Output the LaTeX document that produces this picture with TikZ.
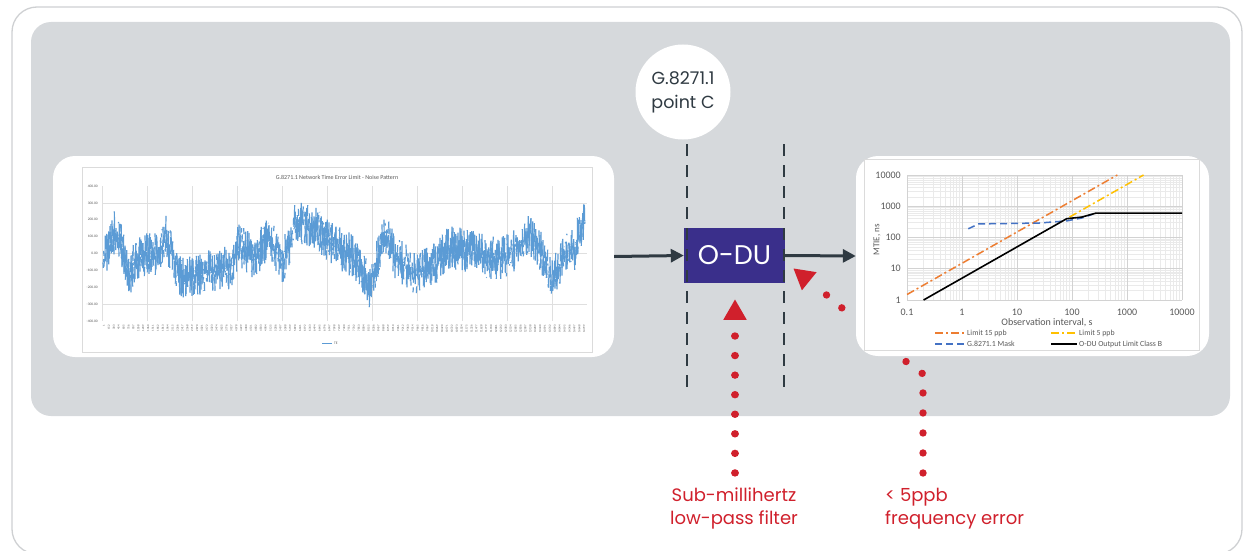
\documentclass[tikz,border=0pt]{standalone}
\usepackage{fontspec}
\setmainfont{Poppins}
\newfontfamily\chartfont{Carlito}
\usetikzlibrary{arrows.meta,shapes.geometric,calc}

\definecolor{panelgrey}{RGB}{214,217,220}
\definecolor{framegrey}{RGB}{206,208,210}
\definecolor{slate}{RGB}{47,58,66}
\definecolor{indigo}{RGB}{58,47,139}
\definecolor{alertred}{RGB}{208,32,44}
\definecolor{noiseblue}{RGB}{91,155,213}
\definecolor{gridgrey}{RGB}{210,210,210}
\definecolor{minorgrey}{RGB}{234,234,234}
\definecolor{ticktext}{RGB}{89,89,89}
\definecolor{lim15}{RGB}{237,125,49}
\definecolor{lim5}{RGB}{255,192,0}
\definecolor{maskblue}{RGB}{68,114,196}

\begin{document}
\begin{tikzpicture}[x=1pt,y=-1pt,
  card/.style={fill=white, rounded corners=22pt, inner sep=0pt},
  flow/.style={draw=slate, line width=3pt, -{Triangle[length=13pt,width=13pt]}},
  gate/.style={draw=slate, line width=2.6pt, dash pattern=on 11.5pt off 9.5pt},
  odubox/.style={fill=indigo, text=white, minimum width=101pt, minimum height=55pt,
    inner sep=0pt, font=\fontsize{27}{30}\selectfont},
  pointc/.style={circle, fill=white, minimum size=95pt, inner sep=0pt, align=center,
    text=slate, font=\fontsize{17.5}{24}\selectfont},
  redtri/.style={regular polygon, regular polygon sides=3, fill=alertred,
    minimum size=27pt, inner sep=0pt},
  reddots/.style={draw=alertred, line width=7.4pt, line cap=round,
    dash pattern=on 0.01pt off #1},
  note/.style={text=alertred, inner sep=0pt, font=\fontsize{18}{23}\selectfont},
  noise/.style={draw=noiseblue, line width=1.2pt},
  lgrid/.style={draw=gridgrey!70, line width=0.6pt},
  tinylab/.style={text=ticktext, inner sep=0pt, font=\chartfont\fontsize{3.6}{4}\selectfont},
  minor/.style={draw=minorgrey, line width=0.5pt},
  major/.style={draw=gridgrey, line width=0.7pt},
  ticklab/.style={text=ticktext, inner sep=0pt, font=\chartfont\fontsize{10}{11}\selectfont},
  legtext/.style={text=ticktext, inner sep=0pt, anchor=west, font=\chartfont\fontsize{7.8}{9}\selectfont},
  lim15line/.style={draw=lim15, line width=1.5pt, dash pattern=on 8pt off 3pt on 2pt off 3pt},
  lim5line/.style={draw=lim5, line width=1.5pt, dash pattern=on 8pt off 3pt on 2pt off 3pt},
  maskline/.style={draw=maskblue, line width=1.5pt, dash pattern=on 7pt off 4pt},
  odulimit/.style={draw=black, line width=1.6pt},
  declare function={lx(\t)=962+55*log10(\t); ly(\v)=300-31.25*log10(\v);}
]
\useasboundingbox (0,0) rectangle (1245,551);

% outer frame and grey panel
\draw[framegrey, line width=1.3pt, rounded corners=25pt] (12,7) rectangle (1242,554);
\fill[panelgrey, rounded corners=20pt] (31,22) rectangle (1230,416);

% red pointers (the second dotted line runs under the MTIE card)
\node[redtri] (t1) at (735,313) {};
\node[redtri, rotate=51] (t2) at (804,277) {};
\coordinate (f1) at (735,473);
\coordinate (f2) at (923,473);
\coordinate (bend2) at (923,374);
\coordinate (via2a) at (903,359.3);
\coordinate (via2b) at (883,308);
\coordinate (via2c) at (842,308);
\draw[reddots=19.55] ($(t1.center)+(0,23)$) -- (f1);
\draw[reddots=20] (f2) -- (bend2) -- (via2a) -- (via2b) -- (via2c) -- ($(t2.center)+(19,15)$);

% chart cards
\node[card, minimum width=561pt, minimum height=201pt] (left) at (333.5,256.5) {};
\node[card, minimum width=353pt, minimum height=200pt] (right) at (1032.5,256) {};

% ---------- noise pattern chart ----------
\draw[draw=gridgrey!80, line width=0.6pt] (82,167) rectangle (592,352);
\node[text=ticktext, inner sep=0pt, font=\chartfont\fontsize{6}{7}\selectfont] at (337,177)
  {G.8271.1 Network Time Error Limit - Noise Pattern};
\foreach \gx in {147,192,237,282,327,372,417,462,507,552}
  \draw[lgrid] (\gx,186) -- (\gx,321);
\foreach \gy in {203,253,304}
  \draw[lgrid] (102,\gy) -- (587,\gy);
\draw[lgrid] (102,186) -- (102,321);
\foreach \v [count=\i from 0] in {400.00,300.00,200.00,100.00,0.00,-100.00,-200.00,-300.00,-400.00}
  \node[tinylab, anchor=east] at (98,{186+16.9*\i}) {\v};
\foreach \i in {0,...,98}
  \node[tinylab, rotate=90, anchor=east, font=\chartfont\fontsize{3}{3.5}\selectfont]
    at ({104+\i*4.9},325) {\number\numexpr 1+\i*151\relax};
\draw[draw=noiseblue, line width=1pt] (322,343) -- (332,343);
\node[tinylab, anchor=west] at (334,343) {TE};

% time-error trace: slow wander plus dense sample noise
\pgfmathsetseed{4242}
\foreach \px/\py [remember=\px as \qx (initially 103), remember=\py as \qy (initially 260)] in
  {112/240, 115/230, 123/250, 128/277, 137/260, 152/250, 159/257, 166/237, 181/277,
   195/277, 214/270, 232/267, 239/243, 254/260, 268/237, 283/263, 297/220, 312/227,
   326/237, 341/250, 355/257, 370/287, 385/230, 395/257, 414/273, 432/267, 450/247,
   468/250, 486/257, 505/257, 523/243, 530/233, 541/250, 552/283, 563/257, 574/250,
   585/217}{
  \pgfmathtruncatemacro\nn{(\px-\qx)*3}
  \foreach \k in {1,...,\nn}{
    \pgfmathsetmacro\xx{\qx+\k/3}
    \pgfmathsetmacro\yy{\qy+(\py-\qy)*\k/\nn}
    \pgfmathsetmacro\ra{rand}
    \pgfmathsetmacro\rb{rand}
    \pgfmathsetmacro\ya{\yy+9*\ra+13*\ra*\ra*\ra}
    \pgfmathsetmacro\yb{\yy+9*\rb+13*\rb*\rb*\rb}
    \draw[noise] (\xx-0.33,\ya) -- (\xx,\yb);
  }
}

% ---------- MTIE chart ----------
\draw[draw=gridgrey!80, line width=0.6pt] (864,159) rectangle (1199,350);
\foreach \d in {-1,0,1,2,3}
  \foreach \m in {2,...,9}
    \draw[minor] ({962+55*(\d+log10(\m))},175) -- ({962+55*(\d+log10(\m))},300);
\foreach \d in {0,1,2,3}
  \foreach \m in {2,...,9}
    \draw[minor] (907,{300-31.25*(\d+log10(\m))}) -- (1182,{300-31.25*(\d+log10(\m))});
\foreach \d in {0,...,5}
  \draw[major] ({907+55*\d},175) -- ({907+55*\d},300);
\foreach \d in {0,...,4}
  \draw[major] (907,{300-31.25*\d}) -- (1182,{300-31.25*\d});

\foreach \lab [count=\i from 0] in {0.1,1,10,100,1000,10000}
  \node[ticklab] at ({907+55*\i},312) {\lab};
\foreach \lab [count=\i from 0] in {1,10,100,1000,10000}
  \node[ticklab, anchor=east] at (901,{300-31.25*\i}) {\lab};
\node[ticklab, font=\chartfont\fontsize{10}{11}\selectfont] at (1047,323) {Observation interval, s};
\node[ticklab, rotate=90, font=\chartfont\fontsize{9}{10}\selectfont] at (877,240) {MTIE, ns};

\draw[lim15line] ({lx(0.1)},{ly(1.5)}) -- ({lx(666.7)},{ly(10000)});
\draw[lim5line] ({lx(90)},{ly(450)}) -- ({lx(2000)},{ly(10000)});
\draw[maskline] ({lx(1.3)},{ly(190)}) -- ({lx(2)},{ly(272)}) -- ({lx(25)},{ly(290)})
  -- ({lx(80)},{ly(340)}) -- ({lx(150)},{ly(420)}) -- ({lx(240)},{ly(560)});
\draw[odulimit] ({lx(0.2)},{ly(1)}) -- ({lx(80)},{ly(400)}) -- ({lx(150)},{ly(450)})
  -- ({lx(270)},{ly(600)}) -- ({lx(10000)},{ly(600)});

\draw[lim15line] (935,333) -- (965,333);
\node[legtext] at (967,333) {Limit 15 ppb};
\draw[lim5line] (1051,333) -- (1077,333);
\node[legtext] at (1079,333) {Limit 5 ppb};
\draw[maskline] (935,344) -- (965,344);
\node[legtext] at (967,344) {G.8271.1 Mask};
\draw[odulimit] (1051,344) -- (1077,344);
\node[legtext] at (1079,344) {O-DU Output Limit Class B};

% ---------- O-DU, reference point and flow ----------
\node[pointc] (pc) at (683,92) {G.8271.1\\point C};
\node[odubox] (odu) at (734.5,255.5) {O-DU};
\draw[flow] (left.east) -- (odu.west);
\draw[flow] (odu.east) -- (right.west);

\coordinate (g1top) at (687,144);
\coordinate (g1bot) at (687,391);
\coordinate (g2top) at (784,144);
\coordinate (g2bot) at (784,391);
\draw[gate] (g1top) -- (g1bot);
\draw[gate] (g2top) -- (g2bot);

% ---------- annotations ----------
\node[note, align=center, anchor=north] (lpf) at (734,488) {Sub-millihertz\\low-pass filter};
\node[note, align=left, anchor=north west] (ferr) at (885,488) {< 5ppb\\frequency error};
\end{tikzpicture}
\end{document}
